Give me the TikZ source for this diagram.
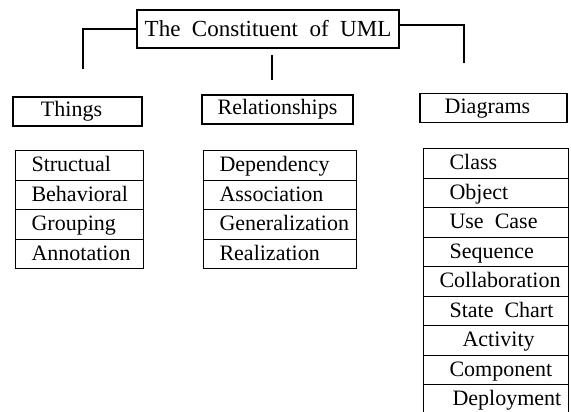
\documentclass[tikz,border=0pt]{standalone}
\usepackage{fontspec}
\setmainfont{Liberation Serif}
\newcommand{\wsp}{\hspace{0.5em}}
\newcommand{\lbox}[2]{\makebox[#1][l]{#2}}
\begin{document}
\begin{tikzpicture}[x=1pt,y=-1pt,
  line width=1.1pt,
  titlebox/.style={draw, line width=1.5pt, inner sep=0pt, minimum width=262pt, minimum height=38pt,
    font=\fontsize{23}{26}\selectfont},
  headbox/.style={draw, inner sep=0pt, minimum height=29pt, text height=16pt, text depth=5pt,
    font=\fontsize{22}{24}\selectfont},
  rowbox/.style={draw, anchor=north west, inner ysep=0pt, minimum height=29.5pt,
    text height=17pt, text depth=4.5pt, font=\fontsize{22}{24}\selectfont},
  link/.style={line width=1.4pt}]
\useasboundingbox (0,0) rectangle (571,412);

% root and the three branches
\node[titlebox] (root) at (268,29) {The\wsp Constituent\wsp of\wsp UML};
\node[headbox, minimum width=129pt] (things) at (77.5,111.5) {\hspace*{-12pt}Things};
\node[headbox, minimum width=151pt] (rel) at (277.5,109.5) {Relationships};
\node[headbox, minimum width=147pt] (diag) at (493.5,108) {\hspace*{-12pt}Diagrams};

% connector stubs hanging from the root
\coordinate (lend) at (83,69);
\coordinate (rend) at (464,63);
\coordinate (mtop) at (272,55);
\coordinate (mbot) at (272,80);
\draw[link] (root.west |- 0,29) -| (lend);
\draw[link] (root.east |- 0,25) -| (rend);
\draw[link] (mtop) -- (mbot);

% Things
\node[rowbox, inner xsep=16pt] (t1) at (15,150) {\lbox{96pt}{Structual}};
\node[rowbox, inner xsep=16pt] (t2) at (15,179.5) {\lbox{96pt}{Behavioral}};
\node[rowbox, inner xsep=16pt] (t3) at (15,209) {\lbox{96pt}{Grouping}};
\node[rowbox, inner xsep=16pt] (t4) at (15,238.5) {\lbox{96pt}{Annotation}};

% Relationships
\node[rowbox, inner xsep=16pt] (r1) at (203,150) {\lbox{121pt}{Dependency}};
\node[rowbox, inner xsep=16pt] (r2) at (203,179.5) {\lbox{121pt}{Association}};
\node[rowbox, inner xsep=16pt] (r3) at (203,209) {\lbox{121pt}{Generalization}};
\node[rowbox, inner xsep=16pt] (r4) at (203,238.5) {\lbox{121pt}{Realization}};

% Diagrams
\node[rowbox, inner xsep=26pt] (d1) at (423,148) {\lbox{93pt}{Class}};
\node[rowbox, inner xsep=26pt] (d2) at (423,177.5) {\lbox{93pt}{Object}};
\node[rowbox, inner xsep=26pt] (d3) at (423,207) {\lbox{93pt}{Use\wsp Case}};
\node[rowbox, inner xsep=26pt] (d4) at (423,236.5) {\lbox{93pt}{Sequence}};
\node[rowbox, inner xsep=26pt] (d5) at (423,266) {\lbox{93pt}{\hspace*{-10pt}Collaboration}};
\node[rowbox, inner xsep=26pt] (d6) at (423,295.5) {\lbox{93pt}{State\wsp Chart}};
\node[rowbox, inner xsep=26pt] (d7) at (423,325) {\lbox{93pt}{\hspace*{13pt}Activity}};
\node[rowbox, inner xsep=26pt] (d8) at (423,354.5) {\lbox{93pt}{Component}};
\node[rowbox, inner xsep=26pt] (d9) at (423,384) {\lbox{93pt}{\hspace*{3pt}Deployment}};
\end{tikzpicture}
\end{document}
